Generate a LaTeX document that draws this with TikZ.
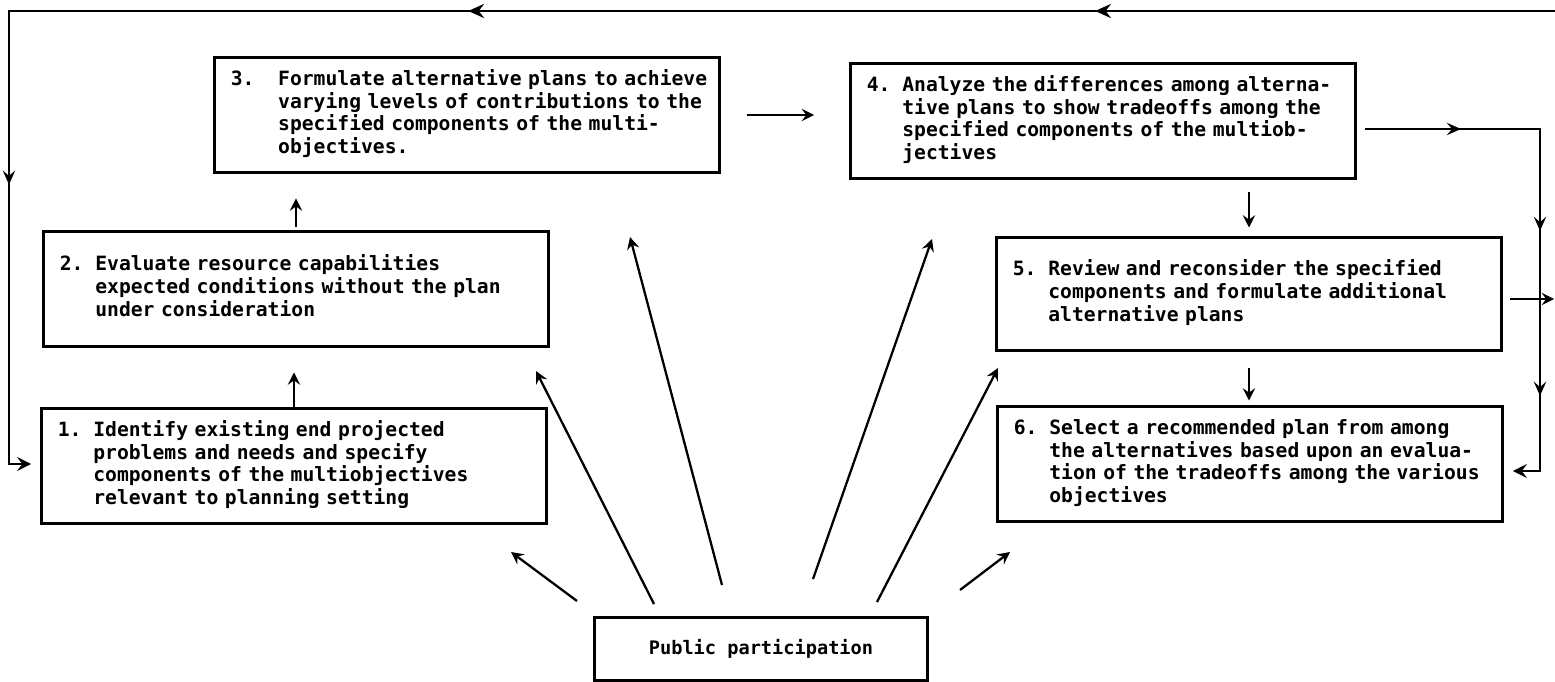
\documentclass[tikz,border=0pt]{standalone}
\usepackage{fontspec}
\setmonofont{DejaVu Sans Mono}
\usepackage{tikz}
\usetikzlibrary{shapes,arrows.meta,decorations.markings}
\tikzstyle{stepbox}=[draw,rectangle,line width=1.7pt,inner sep=0pt,minimum width=10.1cm,minimum height=2.32cm,text width=9.45cm,align=left,font=\ttfamily\bfseries\fontsize{11.2}{13}\selectfont]
\tikzstyle{pubbox}=[draw,rectangle,line width=1.7pt,minimum width=6.66cm,minimum height=1.26cm,font=\ttfamily\bfseries\fontsize{10.6}{13}\selectfont]
\tikzstyle{arr}=[-{Stealth[length=7pt,width=7pt,inset=2.5pt]},line width=1.3pt]
\tikzstyle{feedback}=[line width=1.4pt,postaction={decorate}]

\begin{document}
\begin{tikzpicture}[x=0.02cm,y=-0.02cm]
\useasboundingbox (0,0) rectangle (1555,682);

\node[stepbox] (s1) at (294,466) {\begin{tabular}{@{}l@{}l@{}}1.\phantom{x}&Identify existing end projected\\&problems and needs and specify\\&components of the multiobjectives\\&relevant to planning setting\end{tabular}};
\node[stepbox] (s2) at (296,289) {\begin{tabular}{@{}l@{}l@{}}2.\phantom{x}&Evaluate resource capabilities\\&expected conditions without the plan\\&under consideration\end{tabular}};
\node[stepbox] (s3) at (467,115) {\begin{tabular}{@{}l@{}l@{}}3.\phantom{xx}&Formulate alternative plans to achieve\\&varying levels of contributions to the\\&specified components of the multi-\\&objectives.\end{tabular}};
\node[stepbox] (s4) at (1103,121) {\begin{tabular}{@{}l@{}l@{}}4.\phantom{x}&Analyze the differences among alterna-\\&tive plans to show tradeoffs among the\\&specified components of the multiob-\\&jectives\end{tabular}};
\node[stepbox,minimum height=2.28cm] (s5) at (1249,294) {\begin{tabular}{@{}l@{}l@{}}5.\phantom{x}&Review and reconsider the specified\\&components and formulate additional\\&alternative plans\end{tabular}};
\node[stepbox] (s6) at (1250,464) {\begin{tabular}{@{}l@{}l@{}}6.\phantom{x}&Select a recommended plan from among\\&the alternatives based upon an evalua-\\&tion of the tradeoffs among the various\\&objectives\end{tabular}};
\node[pubbox] (pub) at (761,649) {Public participation};

% steps
\draw[arr,shorten >=0.48cm] (s1.north) -- (s1.north |- s2.south);
\draw[arr,shorten <=0.06cm,shorten >=0.48cm] (s2.north) -- (s2.north |- s3.south);
\draw[arr,shorten <=0.52cm,shorten >=0.7cm] (s3.east) -- (s3.east -| s4.west);
\draw[arr,shorten <=0.24cm,shorten >=0.16cm] (s5.north |- s4.south) -- (s5.north);
\draw[arr,shorten <=0.32cm,shorten >=0.08cm] (s5.south) -- (s5.south |- s6.north);

% feedback lines
\coordinate (ne) at (1555,11);
\coordinate (nw) at (9,11);
\coordinate (sw) at (9,464);
\coordinate (ner) at (1540,129);
\coordinate (ser) at (1540,471);
\coordinate (out5) at (1554,299);
\draw[feedback,decoration={markings,mark=at position 9.2cm with {\arrow{Stealth[length=9pt,width=8pt,inset=3pt]}},mark=at position 21.74cm with {\arrow{Stealth[length=9pt,width=8pt,inset=3pt]}},mark=at position 34.4cm with {\arrow{Stealth[length=8pt,width=7pt,inset=3pt]}}},-{Stealth[length=8pt,width=8pt,inset=3pt]},shorten >=0.18cm] (ne) -- (nw) -- (sw) -- (sw -| s1.west);
\draw[feedback,decoration={markings,mark=at position 2.08cm with {\arrow{Stealth[length=8pt,width=7pt,inset=3pt]}},mark=at position 5.7cm with {\arrow{Stealth[length=8pt,width=7pt,inset=3pt]}},mark=at position 9.0cm with {\arrow{Stealth[length=8pt,width=7pt,inset=3pt]}}},-{Stealth[length=8pt,width=8pt,inset=3pt]},shorten <=0.16cm,shorten >=0.18cm] (s4.east |- ner) -- (ner) -- (ser) -- (ser -| s6.east);
\draw[arr,shorten <=0.14cm] (s5.east |- out5) -- (out5);

% public participation
\coordinate (p1) at (577,601);
\coordinate (q1) at (511,552);
\coordinate (p2) at (654,604);
\coordinate (q2) at (536,371);
\coordinate (p3) at (722,585);
\coordinate (q3) at (630,237);
\coordinate (p4) at (813,579);
\coordinate (q4) at (932,239);
\coordinate (p5) at (877,602);
\coordinate (q5) at (998,368);
\coordinate (p6) at (960,590);
\coordinate (q6) at (1010,552);
\draw[arr] (p1) -- (q1);
\draw[arr] (p2) -- (q2);
\draw[arr] (p3) -- (q3);
\draw[arr] (p4) -- (q4);
\draw[arr] (p5) -- (q5);
\draw[arr] (p6) -- (q6);
\end{tikzpicture}
\end{document}
